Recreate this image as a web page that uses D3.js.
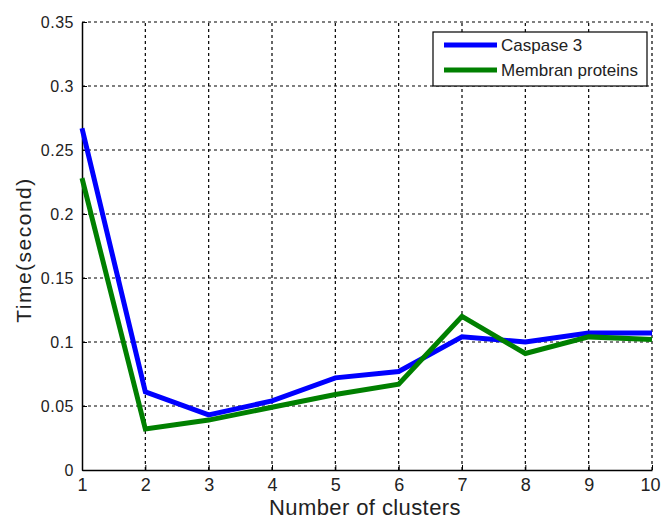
<!DOCTYPE html>
<html><head><meta charset="utf-8">
<script src="https://cdn.jsdelivr.net/npm/d3@7"></script>
<style>body{margin:0;background:#fff;}svg{display:block;font-family:Arial,"Liberation Sans",sans-serif;}</style>
</head><body>
<svg id="c" width="661" height="519"></svg>
<script>
const clusters = [1,2,3,4,5,6,7,8,9,10];
const caspase3 = [0.267,0.061,0.043,0.054,0.072,0.077,0.104,0.100,0.107,0.107];
const membran  = [0.228,0.032,0.039,0.049,0.059,0.067,0.120,0.091,0.104,0.102];
const yTicks = [0,0.05,0.1,0.15,0.2,0.25,0.3,0.35];
const xTicks = [1,2,3,4,5,6,7,8,9,10];
const seriesNames = ["Caspase 3","Membran proteins"];
const seriesColors = ["#0000ff","#008000"];

const svg = d3.select("#c");
const L=82,R=652,T=22,B=470;
const x = d3.scaleLinear().domain([1,10]).range([L,R]);
const y = d3.scaleLinear().domain([0,0.35]).range([B,T]);

// grid
const g = svg.append("g");
g.selectAll("line.gx").data(xTicks.slice(1)).enter().append("line")
  .attr("x1",d=>x(d)).attr("x2",d=>x(d)).attr("y1",B).attr("y2",T)
  .attr("stroke","#000").attr("stroke-width",1.2).attr("stroke-dasharray","3,3");
g.selectAll("line.gy").data(yTicks.slice(1)).enter().append("line")
  .attr("y1",d=>y(d)).attr("y2",d=>y(d)).attr("x1",L).attr("x2",R)
  .attr("stroke","#000").attr("stroke-width",1.2).attr("stroke-dasharray","3,3");

// axes
const fmt = d => d===0 ? "0" : String(+d.toFixed(2));
const xa = svg.append("g").attr("transform",`translate(0,${B})`)
  .call(d3.axisBottom(x).tickValues(xTicks).tickFormat(d3.format("d")).tickSizeInner(-5).tickSizeOuter(0).tickPadding(8));
const ya = svg.append("g").attr("transform",`translate(${L},0)`)
  .call(d3.axisLeft(y).tickValues(yTicks).tickFormat(fmt).tickSizeInner(-5).tickSizeOuter(0).tickPadding(8));
[xa,ya].forEach(a=>{
  a.select(".domain").attr("stroke","#000").attr("stroke-width",1.5);
  a.selectAll(".tick line").attr("stroke","#000");
  a.selectAll("text").attr("fill","#222").attr("font-family","Arial,'Liberation Sans',sans-serif");
});
xa.selectAll("text").attr("font-size",18);
xa.selectAll(".tick").filter(d=>d===10).select("text").attr("text-anchor","end").attr("x",8);
ya.selectAll("text").attr("font-size",16).attr("letter-spacing","0.5px");

// lines
const line = d3.line().x((d,i)=>x(clusters[i])).y(d=>y(d));
[caspase3,membran].forEach((s,k)=>{
  svg.append("path").datum(s).attr("d",line).attr("fill","none")
    .attr("stroke",seriesColors[k]).attr("stroke-width",5).attr("stroke-linejoin","miter");
});

// labels
svg.append("text").attr("x",365).attr("y",515).attr("text-anchor","middle")
  .attr("font-size",22).attr("letter-spacing","0.4px").attr("fill","#222").text("Number of clusters");
svg.append("text").attr("transform",`translate(31,250) rotate(-90)`).attr("text-anchor","middle")
  .attr("font-size",21).attr("letter-spacing","1.5px").attr("fill","#222").text("Time(second)");

// legend
const lg = svg.append("g");
lg.append("rect").attr("x",433).attr("y",32).attr("width",214).attr("height",54)
  .attr("fill","#fff").attr("stroke","#000").attr("stroke-width",1.2);
seriesNames.forEach((n,i)=>{
  const yy = 45 + i*25;
  lg.append("line").attr("x1",444).attr("x2",497).attr("y1",yy).attr("y2",yy)
    .attr("stroke",seriesColors[i]).attr("stroke-width",5);
  lg.append("text").attr("x",501).attr("y",yy+6).attr("font-size",17).attr("fill","#222").text(n);
});
</script>
</body></html>
